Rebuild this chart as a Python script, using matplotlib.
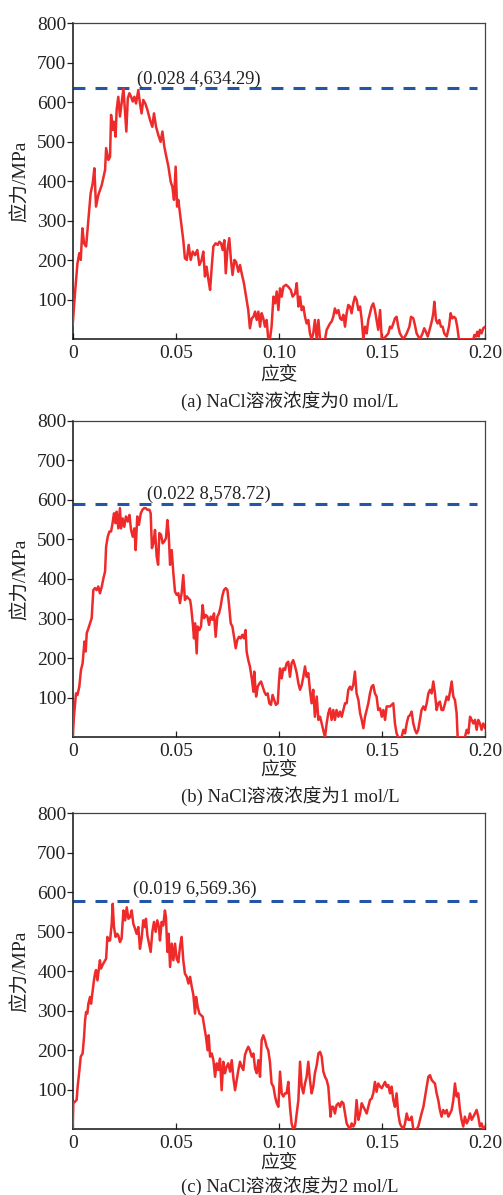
import numpy as np
import matplotlib
matplotlib.use("Agg")
import matplotlib.pyplot as plt

plt.rcParams['font.family'] = ['Liberation Serif', 'Noto Sans CJK SC']
plt.rcParams['axes.unicode_minus'] = False

# ---------------- data ----------------
curve_a = [(0.0000,36),(0.0011,116),(0.0023,192),(0.0032,218),(0.0039,201),(0.0047,281),(0.0055,243),(0.0065,235),
(0.0076,302),(0.0087,370),(0.0097,395),(0.0105,433),(0.0113,336),(0.0124,365),(0.0141,391),(0.0157,429),(0.0162,484),
(0.0173,454),(0.0181,462),(0.0186,568),(0.0194,530),(0.0199,551),(0.0208,513),(0.0213,581),(0.0221,614),(0.0229,564),
(0.0237,597),(0.0246,635),(0.0254,572),(0.0260,526),(0.0267,610),(0.0275,623),(0.0283,614),(0.0291,602),(0.0299,614),
(0.0307,597),(0.0318,631),(0.0326,597),(0.0334,572),(0.0342,606),(0.0352,597),(0.0362,581),(0.0375,555),(0.0386,538),
(0.0394,572),(0.0404,538),(0.0415,517),(0.0426,500),(0.0435,526),(0.0444,488),(0.0452,467),(0.0464,437),(0.0475,399),
(0.0483,386),(0.0491,353),(0.0499,437),(0.0506,336),(0.0512,353),(0.0520,319),(0.0528,285),(0.0536,251),(0.0544,205),
(0.0553,201),(0.0562,239),(0.0572,201),(0.0582,222),(0.0593,213),(0.0604,226),(0.0614,188),(0.0625,201),(0.0633,222),
(0.0641,159),(0.0649,184),(0.0658,150),(0.0666,125),(0.0674,184),(0.0682,235),(0.0693,243),(0.0703,239),(0.0711,247),
(0.0719,243),(0.0727,226),(0.0735,251),(0.0742,167),(0.0750,226),(0.0759,256),(0.0767,201),(0.0775,163),(0.0784,201),
(0.0792,196),(0.0803,171),(0.0811,188),(0.0819,167),(0.0830,142),(0.0843,100),(0.0851,74),(0.0859,28),(0.0868,53),
(0.0876,57),(0.0884,70),(0.0892,49),(0.0900,70),(0.0908,32),(0.0916,66),(0.0924,53),(0.0932,32),(0.0940,49),(0.0948,0),
(0.0956,0),(0.0964,32),(0.0973,108),(0.0981,91),(0.0989,121),(0.0997,74),(0.1005,129),(0.1013,108),(0.1021,133),
(0.1034,138),(0.1045,133),(0.1057,125),(0.1066,108),(0.1078,116),(0.1086,142),(0.1094,83),(0.1102,108),(0.1110,74),
(0.1118,83),(0.1126,57),(0.1134,40),(0.1142,49),(0.1150,15),(0.1158,0),(0.1166,15),(0.1174,49),(0.1183,0),(0.1191,49),
(0.1199,0),(0.1223,0),(0.1231,24),(0.1239,32),(0.1247,40),(0.1255,45),(0.1263,57),(0.1271,78),(0.1279,66),(0.1288,74),
(0.1296,53),(0.1304,49),(0.1312,62),(0.1320,32),(0.1328,66),(0.1336,87),(0.1344,83),(0.1352,66),(0.1360,91),(0.1368,108),
(0.1376,100),(0.1385,74),(0.1393,83),(0.1401,49),(0.1409,0),(0.1417,32),(0.1425,15),(0.1433,49),(0.1441,66),(0.1449,83),
(0.1457,91),(0.1465,74),(0.1473,49),(0.1481,24),(0.1490,74),(0.1498,0),(0.1514,5),(0.1530,15),(0.1538,32),(0.1546,28),
(0.1554,40),(0.1562,53),(0.1570,57),(0.1578,32),(0.1586,15),(0.1603,0),(0.1619,15),(0.1632,32),(0.1640,57),(0.1651,53),
(0.1659,36),(0.1667,15),(0.1683,0),(0.1696,15),(0.1704,28),(0.1712,19),(0.1721,7),(0.1732,28),(0.1742,49),(0.1748,66),
(0.1753,95),(0.1761,49),(0.1769,40),(0.1777,49),(0.1785,32),(0.1793,32),(0.1801,15),(0.1813,7),(0.1824,32),(0.1832,66),
(0.1840,53),(0.1848,57),(0.1856,53),(0.1864,32),(0.1872,0),(0.1942,0),(0.1947,11),(0.1955,7),(0.1961,19),(0.1968,7),
(0.1974,24),(0.1982,15),(0.1990,28),(0.2000,32)]

curve_b = [(0.0000,0),(0.0006,52),(0.0016,111),(0.0023,107),(0.0032,128),(0.0040,170),(0.0048,187),(0.0057,242),(0.0063,217),
(0.0068,263),(0.0076,275),(0.0084,288),(0.0092,301),(0.0100,372),(0.0108,377),(0.0116,372),(0.0124,381),(0.0132,364),
(0.0141,381),(0.0149,402),(0.0157,419),(0.0162,482),(0.0170,507),(0.0178,520),(0.0186,520),(0.0192,537),(0.0200,566),
(0.0207,541),(0.0213,570),(0.0221,528),(0.0229,579),(0.0234,528),(0.0242,553),(0.0250,532),(0.0258,558),(0.0267,545),
(0.0275,562),(0.0283,524),(0.0291,507),(0.0299,528),(0.0305,473),(0.0313,558),(0.0321,537),(0.0330,566),(0.0338,575),
(0.0346,579),(0.0354,579),(0.0362,575),(0.0372,575),(0.0378,566),(0.0384,478),(0.0391,490),(0.0399,524),(0.0407,457),
(0.0414,436),(0.0420,516),(0.0428,512),(0.0436,490),(0.0444,495),(0.0452,503),(0.0459,549),(0.0465,516),(0.0472,436),
(0.0480,473),(0.0488,414),(0.0496,368),(0.0504,360),(0.0512,364),(0.0520,339),(0.0528,364),(0.0536,410),(0.0544,347),
(0.0553,356),(0.0561,351),(0.0569,347),(0.0574,330),(0.0582,288),(0.0588,250),(0.0593,288),(0.0601,212),(0.0606,280),
(0.0614,271),(0.0622,280),(0.0630,334),(0.0637,301),(0.0645,309),(0.0653,305),(0.0661,284),(0.0669,305),(0.0677,297),
(0.0685,313),(0.0693,254),(0.0701,305),(0.0709,313),(0.0717,330),(0.0725,356),(0.0733,372),(0.0742,377),(0.0750,372),
(0.0758,334),(0.0766,288),(0.0774,280),(0.0782,254),(0.0790,225),(0.0798,246),(0.0806,254),(0.0814,250),(0.0822,259),
(0.0830,250),(0.0838,271),(0.0843,217),(0.0851,195),(0.0859,179),(0.0868,149),(0.0876,115),(0.0880,166),(0.0889,103),
(0.0897,128),(0.0905,136),(0.0913,141),(0.0921,128),(0.0929,115),(0.0937,107),(0.0945,111),(0.0953,86),(0.0961,82),
(0.0969,107),(0.0977,94),(0.0985,82),(0.0994,86),(0.1000,141),(0.1005,174),(0.1013,149),(0.1021,174),(0.1029,170),
(0.1037,187),(0.1045,191),(0.1053,153),(0.1061,187),(0.1069,195),(0.1078,179),(0.1086,162),(0.1094,136),(0.1102,120),
(0.1110,132),(0.1118,153),(0.1126,179),(0.1134,153),(0.1142,162),(0.1150,120),(0.1158,86),(0.1166,120),(0.1174,52),
(0.1183,103),(0.1191,44),(0.1199,52),(0.1207,35),(0.1215,19),(0.1223,0),(0.1231,35),(0.1239,61),(0.1247,73),(0.1255,44),
(0.1263,69),(0.1271,44),(0.1279,69),(0.1288,52),(0.1296,65),(0.1304,52),(0.1312,69),(0.1320,86),(0.1328,86),(0.1336,120),
(0.1344,128),(0.1352,120),(0.1360,132),(0.1368,166),(0.1376,111),(0.1385,94),(0.1393,61),(0.1401,44),(0.1409,23),
(0.1417,52),(0.1425,69),(0.1433,86),(0.1441,111),(0.1449,128),(0.1457,132),(0.1465,111),(0.1473,103),(0.1481,69),
(0.1490,73),(0.1498,52),(0.1506,69),(0.1514,44),(0.1522,78),(0.1530,78),(0.1538,78),(0.1546,82),(0.1554,86),(0.1562,35),
(0.1570,10),(0.1578,0),(0.1594,0),(0.1603,19),(0.1611,10),(0.1619,35),(0.1627,52),(0.1635,56),(0.1643,65),(0.1651,35),
(0.1659,19),(0.1667,10),(0.1675,19),(0.1683,44),(0.1691,69),(0.1700,78),(0.1708,69),(0.1716,86),(0.1724,111),(0.1732,120),
(0.1740,111),(0.1748,141),(0.1756,111),(0.1764,69),(0.1772,86),(0.1780,90),(0.1788,69),(0.1796,69),(0.1805,86),(0.1813,103),
(0.1821,94),(0.1829,115),(0.1837,141),(0.1845,103),(0.1853,94),(0.1861,61),(0.1866,0),(0.1901,0),(0.1910,19),(0.1918,10),
(0.1926,52),(0.1934,44),(0.1942,35),(0.1950,44),(0.1958,19),(0.1966,44),(0.1974,35),(0.1982,19),(0.1990,35),(0.2000,23)]

curve_c = [(0.0000,0),(0.0003,66),(0.0011,70),(0.0019,74),(0.0024,108),(0.0031,142),(0.0039,184),(0.0048,192),(0.0055,234),
(0.0060,276),(0.0065,297),(0.0071,293),(0.0076,318),(0.0084,335),(0.0089,318),(0.0095,344),(0.0103,377),(0.0108,394),
(0.0113,403),(0.0120,377),(0.0126,403),(0.0132,428),(0.0137,407),(0.0144,415),(0.0152,423),(0.0162,432),(0.0168,487),
(0.0174,478),(0.0181,478),(0.0189,520),(0.0194,571),(0.0200,512),(0.0208,487),(0.0215,495),(0.0221,491),(0.0229,474),
(0.0237,483),(0.0246,554),(0.0254,529),(0.0262,562),(0.0270,533),(0.0278,537),(0.0286,554),(0.0294,520),(0.0302,508),
(0.0310,495),(0.0318,512),(0.0326,457),(0.0334,483),(0.0342,529),(0.0351,512),(0.0355,533),(0.0362,491),(0.0370,470),
(0.0378,449),(0.0386,500),(0.0394,525),(0.0402,500),(0.0410,529),(0.0418,512),(0.0423,478),(0.0431,525),(0.0439,516),
(0.0447,554),(0.0452,537),(0.0459,449),(0.0465,495),(0.0472,411),(0.0480,470),(0.0488,428),(0.0496,470),(0.0504,432),
(0.0512,423),(0.0520,462),(0.0528,487),(0.0536,428),(0.0544,394),(0.0553,386),(0.0561,369),(0.0569,386),(0.0577,361),
(0.0585,340),(0.0593,293),(0.0598,335),(0.0606,310),(0.0614,293),(0.0622,289),(0.0630,285),(0.0638,259),(0.0646,234),
(0.0654,200),(0.0659,238),(0.0666,184),(0.0674,192),(0.0682,175),(0.0690,133),(0.0698,167),(0.0706,150),(0.0714,179),
(0.0722,99),(0.0730,171),(0.0738,142),(0.0746,158),(0.0754,167),(0.0763,146),(0.0771,175),(0.0779,129),(0.0787,99),
(0.0795,125),(0.0803,150),(0.0811,171),(0.0819,158),(0.0827,150),(0.0835,188),(0.0843,200),(0.0851,209),(0.0859,200),
(0.0868,184),(0.0876,192),(0.0884,154),(0.0892,142),(0.0900,175),(0.0908,133),(0.0916,226),(0.0924,238),(0.0932,226),
(0.0940,209),(0.0948,200),(0.0956,171),(0.0964,116),(0.0973,108),(0.0981,83),(0.0989,66),(0.0997,57),(0.1005,146),
(0.1013,91),(0.1021,83),(0.1029,91),(0.1037,91),(0.1045,120),(0.1053,57),(0.1061,15),(0.1069,0),(0.1078,7),(0.1086,40),
(0.1094,74),(0.1102,171),(0.1110,108),(0.1118,91),(0.1126,116),(0.1134,133),(0.1142,171),(0.1150,125),(0.1158,91),
(0.1166,108),(0.1174,142),(0.1183,163),(0.1191,192),(0.1199,196),(0.1207,184),(0.1215,146),(0.1223,133),(0.1231,125),
(0.1239,108),(0.1244,74),(0.1250,32),(0.1255,57),(0.1263,57),(0.1271,40),(0.1279,61),(0.1288,66),(0.1296,57),(0.1304,70),
(0.1312,66),(0.1320,40),(0.1328,15),(0.1336,7),(0.1344,0),(0.1352,15),(0.1360,7),(0.1368,15),(0.1376,74),(0.1385,24),
(0.1393,40),(0.1401,66),(0.1409,57),(0.1417,49),(0.1425,40),(0.1433,57),(0.1441,74),(0.1449,78),(0.1457,91),(0.1465,120),
(0.1473,95),(0.1481,116),(0.1490,108),(0.1498,104),(0.1506,112),(0.1514,120),(0.1522,108),(0.1530,112),(0.1538,91),
(0.1546,108),(0.1554,74),(0.1562,57),(0.1570,91),(0.1578,40),(0.1586,15),(0.1594,7),(0.1603,0),(0.1611,15),(0.1619,40),
(0.1627,24),(0.1635,24),(0.1643,32),(0.1651,0),(0.1667,0),(0.1675,7),(0.1683,24),(0.1691,40),(0.1700,57),(0.1708,83),
(0.1716,108),(0.1724,133),(0.1732,137),(0.1740,125),(0.1748,120),(0.1756,116),(0.1764,91),(0.1772,74),(0.1780,49),
(0.1788,32),(0.1796,49),(0.1805,40),(0.1813,49),(0.1821,32),(0.1829,40),(0.1837,49),(0.1845,74),(0.1853,116),(0.1861,83),
(0.1869,91),(0.1877,49),(0.1885,24),(0.1893,7),(0.1901,32),(0.1910,15),(0.1918,24),(0.1926,40),(0.1934,24),(0.1942,32),
(0.1950,40),(0.1958,49),(0.1966,32),(0.1974,7),(0.1982,15),(0.1990,0),(0.2000,7)]

peak_lines = [636, 590, 578]            # dashed reference level (as drawn)
peak_labels = ["(0.028 4,634.29)", "(0.022 8,578.72)", "(0.019 6,569.36)"]
captions = ["(a) NaCl溶液浓度为0 mol/L", "(b) NaCl溶液浓度为1 mol/L", "(c) NaCl溶液浓度为2 mol/L"]
xticks = [0, 0.05, 0.10, 0.15, 0.20]
xticklabels = ["0", "0.05", "0.10", "0.15", "0.20"]
yticks = [100, 200, 300, 400, 500, 600, 700, 800]
xlabel = "应变"
ylabel = "应力/MPa"

# ---------------- layout ----------------
W, H = 503, 1195
fig = plt.figure(figsize=(W / 100, H / 100), dpi=100)

ax_px = [(23.3, 339.3), (420.7, 737.3), (813.3, 1129.3)]   # top, bottom in px
left_px, right_px = 72.7, 485.3
xlab_y = [375, 770, 1163]
cap_y = [402, 797, 1187]
label_pos = [(0.0312, 657), (0.0360, 614), (0.0291, 607)]

RED = "#EE2A2A"
BLUE = "#2356A6"
TXT = "#222222"

for i, curve in enumerate([curve_a, curve_b, curve_c]):
    top, bot = ax_px[i]
    ax = fig.add_axes([left_px / W, 1 - bot / H, (right_px - left_px) / W, (bot - top) / H])
    strain = np.array([p[0] for p in curve])
    stress = np.array([p[1] for p in curve])
    ax.plot(strain, stress, color=RED, lw=1.8, zorder=3)
    ax.plot([0, 0.1958], [peak_lines[i]] * 2, color=BLUE, lw=2.2,
            linestyle=(0, (3.9, 3.3)), zorder=2)
    lx, ly = label_pos[i]
    ax.text(lx, ly, peak_labels[i], fontsize=13.3, va='center', ha='left', color=TXT)

    ax.set_xlim(0, 0.2)
    ax.set_ylim(0, 800)
    ax.set_xticks(xticks)
    ax.set_xticklabels(xticklabels)
    ax.set_yticks(yticks)
    ax.tick_params(axis='x', direction='in', length=4, width=0.9, pad=4, labelsize=14, colors=TXT)
    ax.tick_params(axis='y', direction='out', length=4, width=0.9, pad=0.5, labelsize=14, colors=TXT)
    for side in ['left', 'bottom']:
        ax.spines[side].set_color('#111111')
        ax.spines[side].set_linewidth(1.1)
    for side in ['top', 'right']:
        ax.spines[side].set_color('#444444')
        ax.spines[side].set_linewidth(0.9)

    fig.text(279 / W, 1 - xlab_y[i] / H, xlabel, ha='center', va='center', fontsize=13.5, color=TXT)
    fig.text(290 / W, 1 - cap_y[i] / H, captions[i], ha='center', va='center', fontsize=13.4, color=TXT)
    fig.text(21 / W, 1 - (top + bot) / 2 / H, ylabel, ha='center', va='center', rotation=90,
             fontsize=14, color=TXT)

fig.savefig("out.png", dpi=100)
